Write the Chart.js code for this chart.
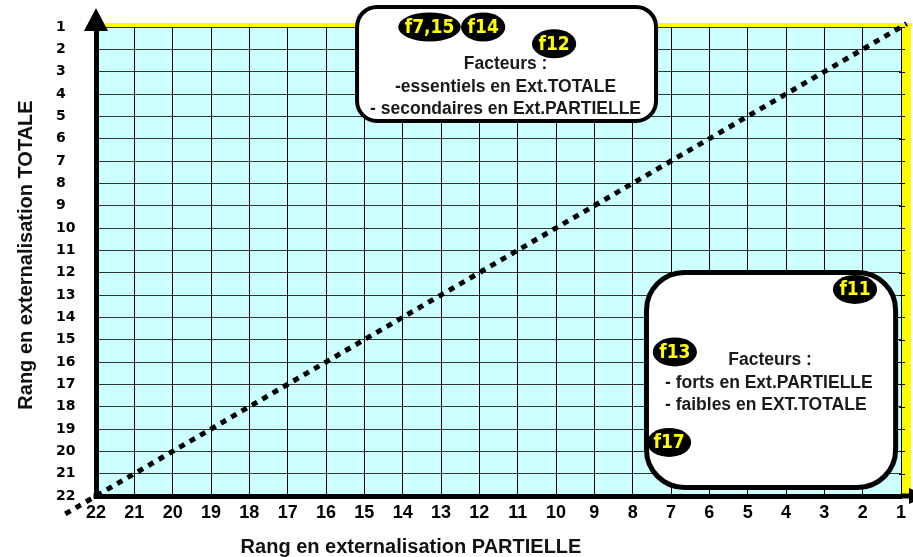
<!DOCTYPE html>
<html>
<head>
<meta charset="utf-8">
<title>Rang en externalisation</title>
<script src="https://cdn.jsdelivr.net/npm/chart.js@4.4.0/dist/chart.umd.min.js"></script>
<style>
  html, body { margin: 0; padding: 0; background: #fff; }
  canvas { display: block; }
</style>
</head>
<body>
<canvas id="chart" width="913" height="557"></canvas>
<script>
// Rank scale on both axes (1 = first rank, 22 = last)
var rankMin = 1, rankMax = 22;

// Factors placed on the grid: rank in partial vs total externalisation
var factorLabels = ['f7,15', 'f14', 'f12', 'f11', 'f13', 'f17'];
var partialRanks = [13.3, 11.9, 10.05, 2.2, 6.9, 7.05];
var totalRanks   = [1.0, 1.0, 1.75, 12.75, 15.55, 19.6];

// 1:1 reference line, ends run a little past the frame
var diagPartial = [22.8, 0.85];
var diagTotal   = [22.8, 0.85];

var xTitle = 'Rang en externalisation PARTIELLE';
var yTitle = 'Rang en externalisation TOTALE';

var topNote    = ['Facteurs :', '-essentiels en Ext.TOTALE', '- secondaires en Ext.PARTIELLE'];
var bottomNote = ['Facteurs :', '- forts en Ext.PARTIELLE', '- faibles en EXT.TOTALE'];

var FONT_SANS = '"Liberation Sans", Arial, sans-serif';

// background, yellow edges, axis arrows and titles
var framePlugin = {
	id: 'frame',
	beforeDraw: function( chart ){
		var c = chart.ctx, a = chart.chartArea;
		c.save();
		c.fillStyle = '#fff';
		c.fillRect( 0, 0, chart.width, chart.height );
		c.fillStyle = '#ccffff';
		c.fillRect( a.left, a.top, a.right - a.left, a.bottom - a.top );
		c.fillStyle = '#ffff00';
		c.fillRect( a.left + 2, a.top - 4, a.right - a.left + 9, 4 );
		c.fillRect( a.right + 1, a.top - 4, 9, a.bottom - a.top + 4 );
		c.restore();
	},
	afterDraw: function( chart ){
		var c = chart.ctx, a = chart.chartArea, ys = chart.scales.y;
		c.save();
		// little ticks on the right edge
		c.strokeStyle = '#000';
		c.lineWidth = 1;
		ys.ticks.forEach(function( t ){
			var py = Math.round( ys.getPixelForValue( t.value ) ) + 0.5;
			c.beginPath();
			c.moveTo( a.right - 2, py );
			c.lineTo( a.right + 4, py );
			c.stroke();
		});
		c.fillStyle = '#000';
		// corner + x axis run-out
		c.fillRect( a.left - 2.5, a.bottom - 2.5, 5, 5 );
		c.fillRect( a.right, a.bottom - 2.5, 9, 5 );
		// arrow on y axis
		c.beginPath();
		c.moveTo( a.left, a.top - 19 );
		c.lineTo( a.left + 12, a.top + 4 );
		c.lineTo( a.left - 12, a.top + 4 );
		c.closePath();
		c.fill();
		// arrow on x axis (mostly off canvas)
		c.beginPath();
		c.moveTo( a.right + 8, a.bottom - 8 );
		c.lineTo( a.right + 26, a.bottom );
		c.lineTo( a.right + 8, a.bottom + 8 );
		c.closePath();
		c.fill();

		// axis titles
		c.fillStyle = '#111';
		c.font = 'bold 20px ' + FONT_SANS;
		c.textAlign = 'center';
		c.textBaseline = 'alphabetic';
		c.fillText( xTitle, 411, 553 );
		c.translate( 32, 255 );
		c.rotate( -Math.PI / 2 );
		c.fillText( yTitle, 0, 0 );
		c.restore();
	}
};

// the two rounded note boxes, then the factor ellipses on top
var notesPlugin = {
	id: 'notes',
	afterDatasetsDraw: function( chart, args, opts ){
		var c = chart.ctx, xs = chart.scales.x, ys = chart.scales.y;
		c.save();
		opts.boxes.forEach(function( b ){
			var x1 = xs.getPixelForValue( b.from[0] ),
			x2     = xs.getPixelForValue( b.to[0] ),
			y1     = ys.getPixelForValue( b.from[1] ),
			y2     = ys.getPixelForValue( b.to[1] );
			c.beginPath();
			c.roundRect( x1, y1, x2 - x1, y2 - y1, b.radius );
			c.fillStyle = '#fff';
			c.fill();
			c.lineWidth = b.width;
			c.strokeStyle = '#000';
			c.stroke();

			c.fillStyle = '#1a1a1a';
			c.font = 'bold 17.5px ' + FONT_SANS;
			c.textBaseline = 'middle';
			b.lines.forEach(function( line, i ){
				var p = b.pos[i];
				if( p[0] === 'c' ){
					c.textAlign = 'center';
					c.fillText( line, ( x1 + x2 ) / 2 + p[1], y1 + p[2] );
				} else {
					c.textAlign = 'left';
					c.fillText( line, x1 + p[1], y1 + p[2] );
				}
			});
		});

		var meta = chart.getDatasetMeta( 1 );
		c.font = 'bold 19px "DejaVu Sans Condensed", "DejaVu Sans", sans-serif';
		c.textAlign = 'center';
		c.textBaseline = 'middle';
		meta.data.forEach(function( pt, i ){
			var w = c.measureText( factorLabels[i] ).width + 13;
			c.beginPath();
			c.ellipse( pt.x, pt.y, w / 2, 14.5, 0, 0, Math.PI * 2 );
			c.fillStyle = '#000';
			c.fill();
			c.fillStyle = '#ffff00';
			c.fillText( factorLabels[i], pt.x, pt.y + 1 );
		});
		c.restore();
	}
};

new Chart( document.getElementById( 'chart' ), {
	type: 'scatter',
	data: {
		datasets: [
			{
				type       : 'line',
				data       : diagPartial.map(function( v, i ){ return { x: v, y: diagTotal[i] }; }),
				borderColor: '#000',
				borderWidth: 5,
				borderDash : [6, 6],
				pointRadius: 0,
				clip       : false
			},
			{
				data       : factorLabels.map(function( l, i ){ return { x: partialRanks[i], y: totalRanks[i] }; }),
				pointRadius: 0,
				clip       : false
			}
		]
	},
	options: {
		responsive: false,
		animation : false,
		devicePixelRatio: 1,
		layout: { padding: { left: 56, top: 27, right: 12, bottom: 0 } },
		plugins: {
			legend : { display: false },
			tooltip: { enabled: false },
			notes  : {
				boxes: [
					{ from: [15.19, 0.1], to: [7.39, 5.21], radius: 20, width: 4, lines: topNote,
					  pos: [['c', -1, 57], ['c', -1, 80], ['c', -1, 102]] },
					{ from: [7.64, 11.99], to: [1.14, 21.62], radius: 38, width: 5, lines: bottomNote,
					  pos: [['c', -1, 87.5], ['l', 18.5, 110.5], ['l', 18.5, 132.5]] }
				]
			}
		},
		scales: {
			x: {
				type   : 'linear',
				reverse: true,
				min    : rankMin,
				max    : rankMax,
				afterFit: function( s ){ s.height = 61; },
				grid   : { color: '#000', lineWidth: 1, drawTicks: false },
				border : { color: '#000', width: 5 },
				ticks  : {
					stepSize: 1, autoSkip: false, maxRotation: 0, padding: 6, color: '#000',
					font: { family: FONT_SANS, size: 18, weight: 'bold' }
				}
			},
			y: {
				type   : 'linear',
				reverse: true,
				min    : rankMin,
				max    : rankMax,
				afterFit: function( s ){ s.width = 40; },
				grid   : { color: '#333', lineWidth: 1, drawTicks: false },
				border : { color: '#000', width: 5 },
				ticks  : {
					stepSize: 1, autoSkip: false, crossAlign: 'far', color: '#000',
					font: { family: 'DejaVu Sans', size: 14, weight: 'bold' }
				}
			}
		}
	},
	plugins: [framePlugin, notesPlugin]
});
</script>
</body>
</html>
